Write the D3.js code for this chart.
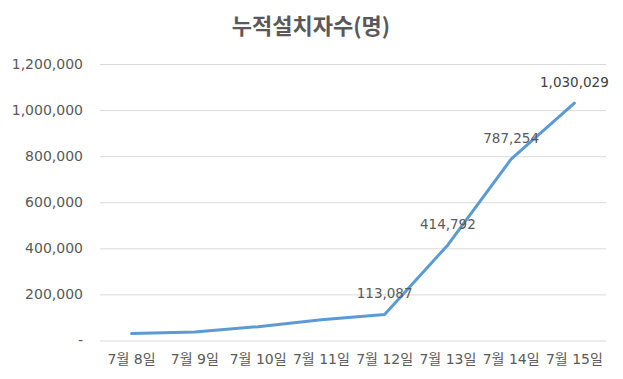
<!DOCTYPE html>
<html>
<head>
<meta charset="utf-8">
<script src="https://cdn.jsdelivr.net/npm/d3@7"></script>
<style>
  html, body { margin: 0; padding: 0; background: #fff; }
  svg { display: block; }
</style>
</head>
<body>
<svg id="chart" width="623" height="379"></svg>
<script>
const title = "누적설치자수(명)";
const categories = ["7월 8일", "7월 9일", "7월 10일", "7월 11일", "7월 12일", "7월 13일", "7월 14일", "7월 15일"];
const values = [30000, 37000, 60000, 90000, 113087, 414792, 787254, 1030029];
const labeledIndex = [4, 5, 6, 7];
const yTicks = [0, 200000, 400000, 600000, 800000, 1000000, 1200000];

const W = 623, H = 379;
const margin = { left: 100, right: 17, top: 64, bottom: 38.5 };
const svg = d3.select("#chart");
const fontNum = "'DejaVu Sans', 'Noto Sans CJK KR', sans-serif";
const textColor = "#595959";

const x = d3.scaleBand().domain(categories).range([margin.left, W - margin.right]);
const y = d3.scaleLinear().domain([0, 1200000]).range([H - margin.bottom, margin.top]);

// title
svg.append("text")
  .attr("x", 311).attr("y", 34)
  .attr("text-anchor", "middle")
  .attr("font-family", "'Noto Sans CJK KR', sans-serif")
  .attr("font-weight", "bold")
  .attr("font-size", 22)
  .attr("fill", textColor)
  .text(title);

// y axis with gridlines
const fmt = d3.format(",");
const yAxis = d3.axisLeft(y)
  .tickValues(yTicks)
  .tickSize(-(W - margin.left - margin.right))
  .tickPadding(17)
  .tickFormat(d => d === 0 ? "-" : fmt(d));
const gy = svg.append("g")
  .attr("transform", `translate(${margin.left},0)`)
  .call(yAxis);
gy.select(".domain").remove();
gy.selectAll(".tick line").attr("stroke", "#d9d9d9").attr("stroke-width", 1);
gy.selectAll(".tick text")
  .attr("font-family", fontNum)
  .attr("font-size", 14)
  .attr("fill", textColor);

// x axis
const xAxis = d3.axisBottom(x).tickSize(0).tickPadding(14);
const gx = svg.append("g")
  .attr("transform", `translate(0,${H - margin.bottom})`)
  .call(xAxis);
gx.select(".domain").remove();
gx.selectAll(".tick text")
  .attr("font-family", fontNum)
  .attr("font-size", 14)
  .attr("fill", textColor);

// line
const pts = categories.map((c, i) => [x(c) + x.bandwidth() / 2, y(values[i])]);
const line = d3.line().curve(d3.curveLinear);
svg.append("path")
  .attr("d", line(pts))
  .attr("fill", "none")
  .attr("stroke", "#5B9BD5")
  .attr("stroke-width", 3)
  .attr("stroke-linecap", "round")
  .attr("stroke-linejoin", "round");

// data labels
svg.append("g").selectAll("text")
  .data(labeledIndex)
  .join("text")
  .attr("x", i => x(categories[i]) + x.bandwidth() / 2)
  .attr("y", i => y(values[i]) - 16)
  .attr("text-anchor", "middle")
  .attr("font-family", fontNum)
  .attr("font-size", 13.5)
  .attr("fill", i => i === 7 ? "#404040" : textColor)
  .text(i => fmt(values[i]));
</script>
</body>
</html>
